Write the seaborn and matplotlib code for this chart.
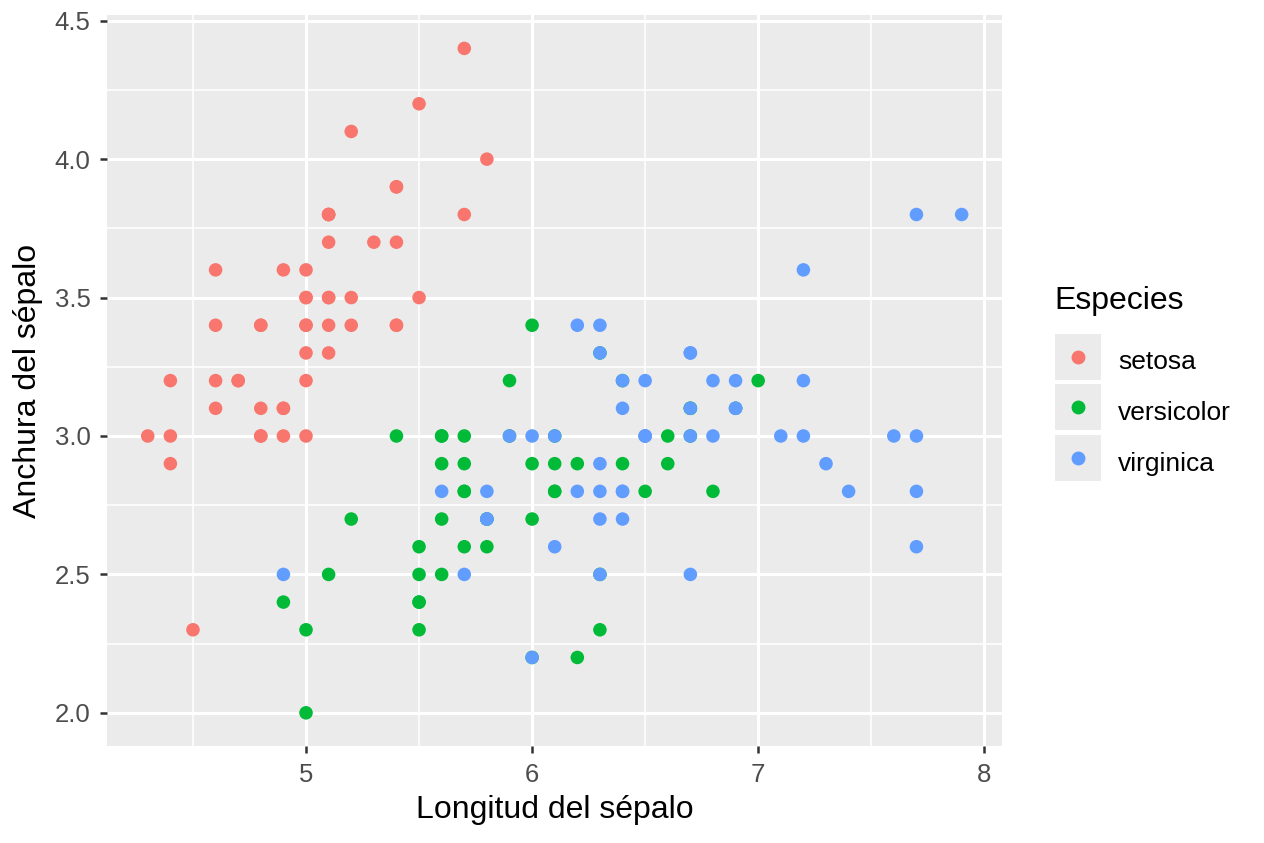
import numpy as np
import pandas as pd
import matplotlib
matplotlib.use("Agg")
import matplotlib.pyplot as plt
import seaborn as sns
from matplotlib.lines import Line2D

# iris data (sepal length / sepal width) per species
setosa_len = [5.1,4.9,4.7,4.6,5.0,5.4,4.6,5.0,4.4,4.9,5.4,4.8,4.8,4.3,5.8,5.7,5.4,5.1,5.7,5.1,
              5.4,5.1,4.6,5.1,4.8,5.0,5.0,5.2,5.2,4.7,4.8,5.4,5.2,5.5,4.9,5.0,5.5,4.9,4.4,5.1,
              5.0,4.5,4.4,5.0,5.1,4.8,5.1,4.6,5.3,5.0]
setosa_wid = [3.5,3.0,3.2,3.1,3.6,3.9,3.4,3.4,2.9,3.1,3.7,3.4,3.0,3.0,4.0,4.4,3.9,3.5,3.8,3.8,
              3.4,3.7,3.6,3.3,3.4,3.0,3.4,3.5,3.4,3.2,3.1,3.4,4.1,4.2,3.1,3.2,3.5,3.6,3.0,3.4,
              3.5,2.3,3.2,3.5,3.8,3.0,3.8,3.2,3.7,3.3]
versicolor_len = [7.0,6.4,6.9,5.5,6.5,5.7,6.3,4.9,6.6,5.2,5.0,5.9,6.0,6.1,5.6,6.7,5.6,5.8,6.2,5.6,
                  5.9,6.1,6.3,6.1,6.4,6.6,6.8,6.7,6.0,5.7,5.5,5.5,5.8,6.0,5.4,6.0,6.7,6.3,5.6,5.5,
                  5.5,6.1,5.8,5.0,5.6,5.7,5.7,6.2,5.1,5.7]
versicolor_wid = [3.2,3.2,3.1,2.3,2.8,2.8,3.3,2.4,2.9,2.7,2.0,3.0,2.2,2.9,2.9,3.1,3.0,2.7,2.2,2.5,
                  3.2,2.8,2.5,2.8,2.9,3.0,2.8,3.0,2.9,2.6,2.4,2.4,2.7,2.7,3.0,3.4,3.1,2.3,3.0,2.5,
                  2.6,3.0,2.6,2.3,2.7,3.0,2.9,2.9,2.5,2.8]
virginica_len = [6.3,5.8,7.1,6.3,6.5,7.6,4.9,7.3,6.7,7.2,6.5,6.4,6.8,5.7,5.8,6.4,6.5,7.7,7.7,6.0,
                 6.9,5.6,7.7,6.3,6.7,7.2,6.2,6.1,6.4,7.2,7.4,7.9,6.4,6.3,6.1,7.7,6.3,6.4,6.0,6.9,
                 6.7,6.9,5.8,6.8,6.7,6.7,6.3,6.5,6.2,5.9]
virginica_wid = [3.3,2.7,3.0,2.9,3.0,3.0,2.5,2.9,2.5,3.6,3.2,2.7,3.0,2.5,2.8,3.2,3.0,3.8,2.6,2.2,
                 3.2,2.8,2.8,2.7,3.3,3.2,2.8,3.0,2.8,3.0,2.8,3.8,2.8,2.8,2.6,3.0,3.4,3.1,3.0,3.1,
                 3.1,3.1,2.7,3.2,3.3,3.0,2.5,3.0,3.4,3.0]

species = ["setosa", "versicolor", "virginica"]
colors = ["#F8766D", "#00BA38", "#619CFF"]
x_ticks = [5, 6, 7, 8]
y_ticks = [2.0, 2.5, 3.0, 3.5, 4.0, 4.5]

df = pd.DataFrame({
    "len": setosa_len + versicolor_len + virginica_len,
    "wid": setosa_wid + versicolor_wid + virginica_wid,
    "Especies": ["setosa"] * 50 + ["versicolor"] * 50 + ["virginica"] * 50,
})

plt.rcParams['font.family'] = ['Liberation Sans', 'DejaVu Sans']

fig = plt.figure(figsize=(12.64, 8.43), dpi=100)
ax = fig.add_axes([0.0847, 0.115, 0.7083, 0.867])
ax.set_facecolor("#EBEBEB")

sns.scatterplot(data=df, x="len", y="wid", hue="Especies", palette=colors,
                hue_order=species, s=95, linewidth=0, ax=ax, legend=False, zorder=3)

# ggplot-like expansion
ax.set_xlim(4.12, 8.08)
ax.set_ylim(1.88, 4.52)
ax.set_xticks(x_ticks)
ax.set_yticks(y_ticks)
ax.set_yticklabels([f"{v:.1f}" for v in y_ticks])
ax.set_xticks([4.5, 5.5, 6.5, 7.5], minor=True)
ax.set_yticks([2.25, 2.75, 3.25, 3.75, 4.25], minor=True)
ax.grid(True, which="major", color="white", linewidth=2.2, zorder=0)
ax.grid(True, which="minor", color="white", linewidth=1.1, zorder=0)
ax.set_axisbelow(True)
for sp in ax.spines.values():
    sp.set_visible(False)
ax.tick_params(which="major", length=5, width=1.8, color="#333333",
               labelsize=18.5, labelcolor="#4D4D4D", pad=7)
ax.tick_params(which="minor", length=0)

ax.set_xlabel("Longitud del sépalo", fontsize=23, labelpad=6)
ax.set_ylabel("Anchura del sépalo", fontsize=23, labelpad=8)

handles = [Line2D([0], [0], marker="o", linestyle="", markersize=10,
                  markerfacecolor=c, markeredgewidth=0) for c in colors]
leg = fig.legend(handles, species, title="Especies", loc="center left",
                 bbox_to_anchor=(0.834, 0.546), frameon=False, fontsize=19,
                 title_fontsize=23, handlelength=1.8, handleheight=1.6,
                 labelspacing=0.64, handletextpad=0.62, borderpad=0,
                 borderaxespad=0)
leg._legend_box.align = "left"
leg._legend_box.sep = 20

fig.canvas.draw()
# gray key boxes behind legend markers
for h in leg.legend_handles:
    bb = h.get_window_extent().transformed(fig.transFigure.inverted())
    cx = (bb.x0 + bb.x1) / 2
    cy = (bb.y0 + bb.y1) / 2
    w = 48 / 1264
    hh = 48 / 843
    fig.patches.append(plt.Rectangle((cx - w / 2, cy - hh / 2), w, hh,
                                     transform=fig.transFigure, facecolor="#EBEBEB",
                                     edgecolor="white", linewidth=1.5, zorder=0))

fig.savefig("out.png", dpi=100)
